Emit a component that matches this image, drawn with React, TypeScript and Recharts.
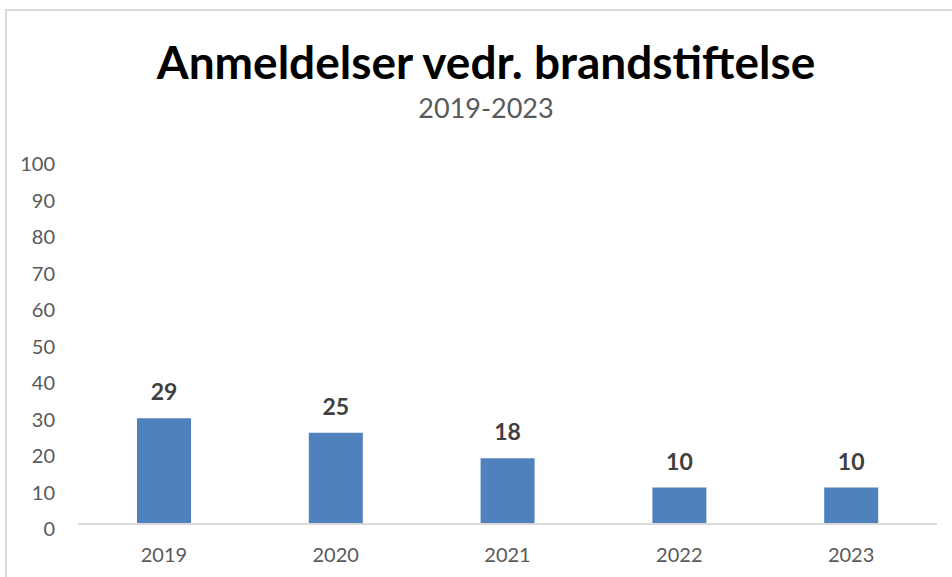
import { Bar, BarChart, LabelList, XAxis, YAxis } from "recharts";

const years = ["2019", "2020", "2021", "2022", "2023"];
const reports = [29, 25, 18, 10, 10];
const yTicks = [0, 10, 20, 30, 40, 50, 60, 70, 80, 90, 100];

const FONT = "Lato, 'Open Sans', sans-serif";
const TICK_COLOR = "#595959";

const data = years.map((year, i) => ({ year, value: reports[i] }));

function YTick({ x, y, payload }: any) {
  return (
    <text x={x} y={y + 5} dy="0.35em" textAnchor="end" fill={TICK_COLOR} fontSize={20} fontFamily={FONT}>
      {payload.value}
    </text>
  );
}

function XTick({ x, y, payload }: any) {
  return (
    <text x={x} y={y + 23} dy="0.35em" textAnchor="middle" fill={TICK_COLOR} fontSize={20} fontFamily={FONT}>
      {payload.value}
    </text>
  );
}

export default function App() {
  return (
    <div style={{ position: "fixed", left: 0, top: 0, width: 952, height: 577, background: "#fff", overflow: "hidden" }}>
      <div
        style={{
          position: "absolute",
          left: 5,
          top: 9,
          width: 960,
          height: 600,
          borderTop: "2px solid #d9d9d9",
          borderLeft: "2px solid #d9d9d9",
        }}
      />
      <div
        style={{
          position: "absolute",
          left: 0,
          top: 33,
          width: 972,
          textAlign: "center",
          fontFamily: FONT,
          fontWeight: 700,
          fontSize: 46,
          lineHeight: "58px",
          color: "#000",
        }}
      >
        Anmeldelser vedr. brandstiftelse
      </div>
      <div
        style={{
          position: "absolute",
          left: 0,
          top: 92,
          width: 972,
          textAlign: "center",
          fontFamily: FONT,
          fontSize: 27,
          lineHeight: "32px",
          color: TICK_COLOR,
        }}
      >
        2019-2023
      </div>
      <div style={{ position: "absolute", left: 0, top: 0 }}>
        <BarChart width={952} height={577} data={data} margin={{ top: 159, right: 15, bottom: 13, left: 0 }}>
          <XAxis
            dataKey="year"
            axisLine={{ stroke: "#d9d9d9", strokeWidth: 2 }}
            tickLine={false}
            height={40}
            tick={<XTick />}
          />
          <YAxis
            domain={[0, 100]}
            ticks={yTicks}
            interval={0}
            width={78}
            axisLine={false}
            tickLine={false}
            tickMargin={17}
            tick={<YTick />}
          />
          <Bar dataKey="value" fill="#4F81BD" barSize={54} isAnimationActive={false}>
            <LabelList
              dataKey="value"
              position="top"
              offset={18}
              fill="#404040"
              fontSize={23}
              fontWeight={700}
              fontFamily={FONT}
            />
          </Bar>
        </BarChart>
      </div>
    </div>
  );
}
